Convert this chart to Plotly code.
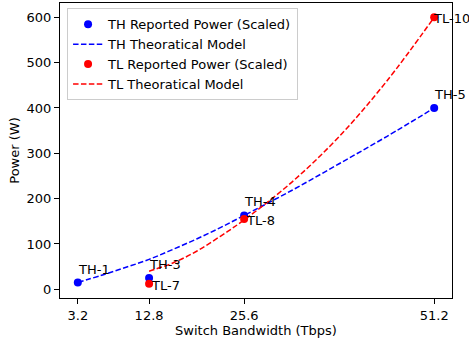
import plotly.graph_objects as go

# Measured switch power vs. bandwidth
th_bw = [3.2, 12.8, 25.6, 51.2]
th_power = [15, 25, 163, 400]
th_labels = ["TH-1", "TH-3", "TH-4", "TH-5"]

tl_bw = [12.8, 25.6, 51.2]
tl_power = [12, 155, 600]
tl_labels = ["TL-7", "TL-8", "TL-10"]

# Theoretical model curves
th_model_bw = [3.2, 6.4, 9.6, 12.8, 16, 19.2, 22.4, 25.6, 32, 38.4, 44.8, 51.2]
th_model_power = [15, 31, 48, 66, 88, 111, 136, 163, 218, 277, 337, 400]

tl_model_bw = [12.8, 16, 19.2, 22.4, 25.6, 32, 38.4, 44.8, 51.2]
tl_model_power = [40, 58, 84, 117, 153, 236, 337, 459, 600]

x_ticks = [3.2, 12.8, 25.6, 51.2]
x_tick_text = ["3.2", "12.8", "25.6", "51.2"]
y_ticks = [0, 100, 200, 300, 400, 500, 600]

FONT = "DejaVu Sans"
FS = 13
DASH = "5.5px,2.4px"

fig = go.Figure()
fig.add_trace(go.Scatter(
    x=th_bw, y=th_power, mode="markers", name="TH Reported Power (Scaled)",
    marker=dict(color="blue", size=8),
))
fig.add_trace(go.Scatter(
    x=th_model_bw, y=th_model_power, mode="lines", name="TH Theoratical Model",
    line=dict(color="blue", width=1.5, dash=DASH, shape="spline"),
))
fig.add_trace(go.Scatter(
    x=tl_bw, y=tl_power, mode="markers", name="TL Reported Power (Scaled)",
    marker=dict(color="red", size=8),
))
fig.add_trace(go.Scatter(
    x=tl_model_bw, y=tl_model_power, mode="lines", name="TL Theoratical Model",
    line=dict(color="red", width=1.5, dash=DASH, shape="spline"),
))

for x, y, t in zip(th_bw, th_power, th_labels):
    fig.add_annotation(x=x, y=y, text=t, showarrow=False, xanchor="left",
                       yanchor="bottom", xshift=-2, yshift=4,
                       font=dict(family=FONT, size=FS, color="black"))
for x, y, t in zip(tl_bw, tl_power, tl_labels):
    # keep the right-most label inside the page
    shift = -3 if x == max(tl_bw) else 0
    fig.add_annotation(x=x, y=y, text=t, showarrow=False, xanchor="left",
                       yanchor="top", xshift=shift, yshift=8,
                       font=dict(family=FONT, size=FS, color="black"))

axis_common = dict(
    showline=True, linecolor="black", linewidth=1, mirror=True,
    ticks="outside", ticklen=5, tickcolor="black", tickwidth=1,
    showgrid=False, zeroline=False,
    tickfont=dict(family=FONT, size=FS, color="black"),
)

fig.update_layout(
    width=469, height=340,
    margin=dict(l=60, r=17, t=3, b=42),
    paper_bgcolor="white", plot_bgcolor="white",
    font=dict(family=FONT, size=FS, color="black"),
    showlegend=True,
    legend=dict(
        x=0.018, y=0.982, xanchor="left", yanchor="top",
        bgcolor="rgba(255,255,255,0.8)", bordercolor="#cccccc", borderwidth=1,
        font=dict(family=FONT, size=FS, color="black"),
        tracegroupgap=0, itemsizing="trace",
    ),
    xaxis=dict(
        range=[0.8, 53.6], tickvals=x_ticks, ticktext=x_tick_text,
        title=dict(text="Switch Bandwidth (Tbps)", standoff=3,
                   font=dict(family=FONT, size=FS, color="black")),
        **axis_common,
    ),
    yaxis=dict(
        range=[-19.2, 631.6], tickvals=y_ticks,
        title=dict(text="Power (W)", standoff=4,
                   font=dict(family=FONT, size=FS, color="black")),
        **axis_common,
    ),
)

fig.write_html("out.html")
